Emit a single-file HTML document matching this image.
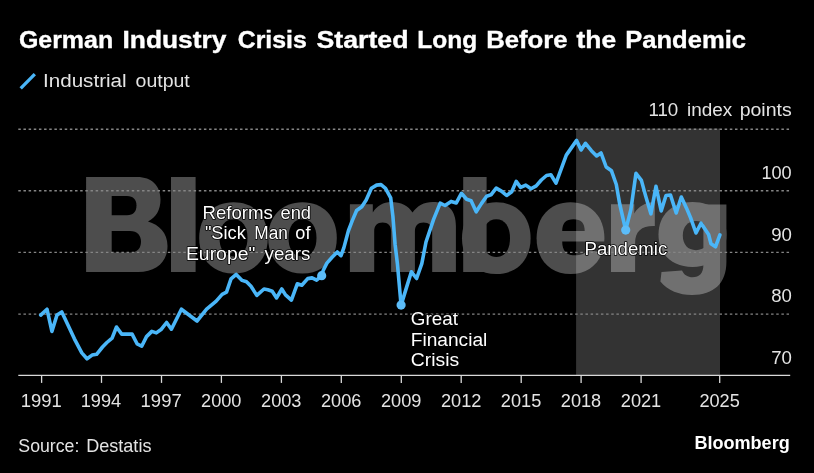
<!DOCTYPE html>
<html><head><meta charset="utf-8"><title>German Industry Crisis Started Long Before the Pandemic</title>
<style>
html,body{margin:0;padding:0;background:#000;}
body{width:814px;height:473px;overflow:hidden;font-family:"Liberation Sans",sans-serif;}
svg{display:block;}
text{font-family:"Liberation Sans",sans-serif;}
.lab{fill:#e4e4e4;}
.ann{fill:#ffffff;stroke:#000;stroke-width:1.6px;paint-order:stroke;stroke-linejoin:round;}
</style></head><body>
<svg width="814" height="473" viewBox="0 0 814 473" style="opacity:0.9999">
<rect width="814" height="473" fill="#000"/>
<defs><mask id="wmm" maskUnits="userSpaceOnUse" x="0" y="0" width="814" height="473">
<path fill="#fff" d="M86.1,177 H137 C152,177 160.5,186 160.5,199.5 C160.5,210 156,217.5 148,221.5 C159,224.5 167.5,233 167.5,246 C167.5,262 156,272 138,272 H86.1 Z"/>
<path fill="#000" d="M111.7,196 H127 C133.5,196 136.5,200 136.5,205.6 C136.5,211.5 133.5,215.3 127,215.3 H111.7 Z"/>
<path fill="#000" d="M111.7,230.9 H130 C137.5,230.9 141,235.5 141,241.7 C141,248 137.5,252.6 130,252.6 H111.7 Z"/>
<path fill="#fff" d="M171,177 H195.6 V272 H171 Z"/>
<path fill="#fff" d="M199.2,237.9 C199.2,216.5 212.9,202.2 233.5,202.2 C254.1,202.2 267.8,216.5 267.8,237.9 C267.8,259.3 254.1,273.6 233.5,273.6 C212.9,273.6 199.2,259.3 199.2,237.9 Z"/>
<path fill="#000" d="M219.5,237.9 C219.5,226.4 224.8,219.3 233.5,219.3 C242.2,219.3 247.5,226.4 247.5,237.9 C247.5,249.4 242.2,256.5 233.5,256.5 C224.8,256.5 219.5,249.4 219.5,237.9 Z"/>
<path fill="#fff" d="M268.2,237.9 C268.2,216.5 281.9,202.2 302.5,202.2 C323.1,202.2 336.8,216.5 336.8,237.9 C336.8,259.3 323.1,273.6 302.5,273.6 C281.9,273.6 268.2,259.3 268.2,237.9 Z"/>
<path fill="#000" d="M288.5,237.9 C288.5,226.4 293.8,219.3 302.5,219.3 C311.2,219.3 316.5,226.4 316.5,237.9 C316.5,249.4 311.2,256.5 302.5,256.5 C293.8,256.5 288.5,249.4 288.5,237.9 Z"/>
<path fill="#fff" d="M349.9,272 V204.2 H372.8 V212.5 C377,206 383.5,202.1 391,202.1 C401,202.1 408.5,206 412.5,212.6 C417,206 424,202 433,202 C448,202 455.9,210.5 455.9,226 V272 H432.2 V231.5 C432.2,225.5 429,222.6 423.5,222.6 C418,222.6 414.9,225.5 414.9,231.5 V272 H391.1 V231.5 C391.1,225.5 388,222.6 382.6,222.6 C377.2,222.6 374.2,225.5 374.2,231.5 V272 Z"/>
<path fill="#fff" d="M462.0,238.2 C462.0,216.6 475.7,202.2 496.3,202.2 C516.9,202.2 530.6,216.6 530.6,238.2 C530.6,259.7 516.9,274.1 496.3,274.1 C475.7,274.1 462.0,259.7 462.0,238.2 Z"/>
<path fill="#000" d="M482.6,238.2 C482.6,226.5 487.8,219.3 496.3,219.3 C504.8,219.3 510.0,226.5 510.0,238.2 C510.0,249.8 504.8,257.0 496.3,257.0 C487.8,257.0 482.6,249.8 482.6,238.2 Z"/>
<path fill="#fff" d="M463.2,177 H486.6 V272 H463.2 Z"/>
<path fill="#fff" d="M536.6,238.2 C536.6,216.6 550.2,202.2 570.5,202.2 C590.8,202.2 604.4,216.6 604.4,238.2 C604.4,259.7 590.8,274.1 570.5,274.1 C550.2,274.1 536.6,259.7 536.6,238.2 Z"/>
<path fill="#000" d="M562.2,231 C562.2,223 566,219.3 573.5,219.3 C581,219.3 584.7,223 584.7,231 Z"/>
<path fill="#000" d="M562.2,241.4 H612 V256 L603.5,253.5 L589,249.5 C586,253.5 581,255.3 574.5,255.3 C566.5,255.3 562.2,250.5 562.2,241.4 Z"/>
<path fill="#fff" d="M611,272 V204.2 H634.3 V213.4 C638.5,206.5 645.5,202.3 654.8,202.1 V226 C642,225.5 635.1,231 635.1,243 V272 Z"/>
<path fill="#fff" d="M658.5,234.5 C658.5,215.0 672.1,202.0 692.5,202.0 C712.9,202.0 726.5,215.0 726.5,234.5 C726.5,254.0 712.9,267.0 692.5,267.0 C672.1,267.0 658.5,254.0 658.5,234.5 Z"/>
<path fill="#000" d="M682.8,235.6 C682.8,226.5 687.8,221.0 696.0,221.0 C704.2,221.0 709.2,226.5 709.2,235.6 C709.2,244.7 704.2,250.2 696.0,250.2 C687.8,250.2 682.8,244.7 682.8,235.6 Z"/>
<path fill="#fff" d="M703.4,204.4 H726.4 V262 C726.4,283 714,295 692,295 C679,295 668,290.5 660.4,281.5 L661.5,272 L682,270.5 C684,275 688,277.3 692.5,277.3 C699.5,277.3 703.4,273 703.4,265 Z"/>
</mask></defs>
<rect x="80" y="170" width="660" height="135" fill="#ffffff" fill-opacity="0.302" mask="url(#wmm)"/>
<rect x="576.1" y="128.6" width="143.9" height="246.8" fill="#ffffff" fill-opacity="0.20"/>
<line x1="18.3" x2="790" y1="129.2" y2="129.2" stroke="#858585" stroke-width="1.4" stroke-dasharray="2.5 2.656"/>
<line x1="18.3" x2="790" y1="190.8" y2="190.8" stroke="#858585" stroke-width="1.4" stroke-dasharray="2.5 2.656"/>
<line x1="18.3" x2="790" y1="252.4" y2="252.4" stroke="#858585" stroke-width="1.4" stroke-dasharray="2.5 2.656"/>
<line x1="18.3" x2="790" y1="314.1" y2="314.1" stroke="#858585" stroke-width="1.4" stroke-dasharray="2.5 2.656"/>
<line x1="18.3" x2="790.2" y1="375.45" y2="375.45" stroke="#d8d8d8" stroke-width="1.3"/>
<line x1="41.6" x2="41.6" y1="375.45" y2="382.9" stroke="#d8d8d8" stroke-width="1.3"/>
<text class="lab" transform="translate(20.67,407.4) scale(0.9727,1)" font-size="19.0" font-weight="normal">1991</text>
<line x1="101.5" x2="101.5" y1="375.45" y2="382.9" stroke="#d8d8d8" stroke-width="1.3"/>
<text class="lab" transform="translate(80.64,407.4) scale(0.9592,1)" font-size="19.0" font-weight="normal">1994</text>
<line x1="161.5" x2="161.5" y1="375.45" y2="382.9" stroke="#d8d8d8" stroke-width="1.3"/>
<text class="lab" transform="translate(140.57,407.4) scale(0.9735,1)" font-size="19.0" font-weight="normal">1997</text>
<line x1="221.4" x2="221.4" y1="375.45" y2="382.9" stroke="#d8d8d8" stroke-width="1.3"/>
<text class="lab" transform="translate(201.12,407.4) scale(0.9544,1)" font-size="19.0" font-weight="normal">2000</text>
<line x1="281.4" x2="281.4" y1="375.45" y2="382.9" stroke="#d8d8d8" stroke-width="1.3"/>
<text class="lab" transform="translate(261.07,407.4) scale(0.9564,1)" font-size="19.0" font-weight="normal">2003</text>
<line x1="341.3" x2="341.3" y1="375.45" y2="382.9" stroke="#d8d8d8" stroke-width="1.3"/>
<text class="lab" transform="translate(321.02,407.4) scale(0.9564,1)" font-size="19.0" font-weight="normal">2006</text>
<line x1="401.3" x2="401.3" y1="375.45" y2="382.9" stroke="#d8d8d8" stroke-width="1.3"/>
<text class="lab" transform="translate(380.97,407.4) scale(0.9572,1)" font-size="19.0" font-weight="normal">2009</text>
<line x1="461.2" x2="461.2" y1="375.45" y2="382.9" stroke="#d8d8d8" stroke-width="1.3"/>
<text class="lab" transform="translate(440.92,407.4) scale(0.9589,1)" font-size="19.0" font-weight="normal">2012</text>
<line x1="521.2" x2="521.2" y1="375.45" y2="382.9" stroke="#d8d8d8" stroke-width="1.3"/>
<text class="lab" transform="translate(500.87,407.4) scale(0.9558,1)" font-size="19.0" font-weight="normal">2015</text>
<line x1="581.1" x2="581.1" y1="375.45" y2="382.9" stroke="#d8d8d8" stroke-width="1.3"/>
<text class="lab" transform="translate(560.82,407.4) scale(0.9564,1)" font-size="19.0" font-weight="normal">2018</text>
<line x1="641.1" x2="641.1" y1="375.45" y2="382.9" stroke="#d8d8d8" stroke-width="1.3"/>
<text class="lab" transform="translate(620.76,407.4) scale(0.9582,1)" font-size="19.0" font-weight="normal">2021</text>
<line x1="719.7" x2="719.7" y1="375.45" y2="382.9" stroke="#d8d8d8" stroke-width="1.3"/>
<text class="lab" transform="translate(699.41,407.4) scale(0.9558,1)" font-size="19.0" font-weight="normal">2025</text>
<text class="lab" transform="translate(648.38,116.3) scale(0.9874,1)" font-size="19.0" font-weight="normal">110</text>
<text class="lab" transform="translate(686.93,116.3) scale(0.9971,1)" font-size="19.0" font-weight="normal">index</text>
<text class="lab" transform="translate(739.63,116.3) scale(1.0284,1)" font-size="19.0" font-weight="normal">points</text>
<text class="lab" transform="translate(761.43,179.3) scale(0.9552,1)" font-size="19.0" font-weight="normal">100</text>
<text class="lab" transform="translate(771.22,240.8) scale(0.9810,1)" font-size="19.0" font-weight="normal">90</text>
<text class="lab" transform="translate(771.24,302.4) scale(0.9798,1)" font-size="19.0" font-weight="normal">80</text>
<text class="lab" transform="translate(771.18,363.6) scale(0.9829,1)" font-size="19.0" font-weight="normal">70</text>
<polyline points="40.7,315.1 47.0,309.2 51.9,331.4 57.0,315.0 61.8,311.9 67.7,324.4 74.4,338.8 81.8,352.9 87.0,358.8 92.1,355.1 96.6,354.3 102.5,347.0 106.9,342.5 112.1,338.1 116.5,327.0 121.7,334.1 132.1,334.1 137.2,344.0 141.7,346.2 146.5,336.6 151.8,331.4 156.3,332.9 161.4,329.2 166.6,322.5 171.4,329.2 181.4,309.2 197.0,321.0 206.6,309.2 216.2,301.1 222.1,294.4 226.5,292.2 231.0,278.9 236.2,274.4 242.1,280.4 246.5,281.8 251.0,286.3 256.8,295.4 264.0,289.0 267.8,289.7 272.2,291.2 276.6,297.9 281.8,289.0 285.5,294.9 291.4,300.1 297.3,283.8 301.8,285.3 307.7,278.6 312.1,277.9 316.6,280.1 321.7,275.7 323.2,270.5 326.9,263.1 332.1,257.2 337.3,252.0 341.0,255.7 343.9,247.6 348.5,230.5 352.2,220.9 356.6,210.5 361.8,206.8 366.2,200.1 371.4,188.3 376.6,185.1 381.0,184.6 385.5,188.3 390.7,197.9 392.9,216.4 395.1,244.5 397.4,263.7 401.1,305.1 407.0,285.9 411.4,271.8 416.6,278.5 421.8,263.7 426.0,242.0 433.6,219.4 440.2,203.1 445.0,205.5 451.1,201.4 456.3,202.9 461.4,193.3 466.6,199.2 471.1,200.7 476.2,211.8 481.4,203.6 486.6,196.2 491.0,194.8 496.2,188.1 501.4,191.1 506.6,195.5 511.7,191.8 516.2,181.4 520.6,187.4 525.8,185.1 531.0,188.8 536.2,185.9 541.3,180.0 546.5,175.5 550.9,174.8 556.0,183.1 566.3,155.1 576.6,140.4 581.1,150.0 585.5,143.3 591.4,150.7 596.6,155.9 601.0,152.9 606.2,167.0 611.5,170.8 616.3,184.5 619.7,204.0 625.7,230.1 630.9,209.4 636.0,173.3 641.4,180.4 645.4,195.1 650.9,213.8 656.0,186.3 661.2,210.9 666.0,195.5 670.5,195.0 676.2,213.0 681.3,197.0 686.4,207.9 690.8,218.3 696.0,233.0 701.0,223.2 708.6,234.5 711.0,243.8 715.5,246.8 719.9,234.9" fill="none" stroke="#4ab6f8" stroke-width="3.6" stroke-linejoin="round" stroke-linecap="round"/>
<circle cx="321.7" cy="275.7" r="4.6" fill="#5cbcf8"/>
<circle cx="401.1" cy="305.1" r="4.6" fill="#5cbcf8"/>
<circle cx="625.7" cy="230.1" r="4.6" fill="#5cbcf8"/>
<text class="ann" transform="translate(202.50,218.6) scale(0.9812,1)" font-size="19.0" font-weight="normal">Reforms</text>
<text class="ann" transform="translate(280.48,218.6) scale(0.9650,1)" font-size="19.0" font-weight="normal">end</text>
<text class="ann" transform="translate(204.89,239.2) scale(0.9610,1)" font-size="19.0" font-weight="normal">&quot;Sick</text>
<text class="ann" transform="translate(254.31,239.2) scale(0.9074,1)" font-size="19.0" font-weight="normal">Man</text>
<text class="ann" transform="translate(295.29,239.2) scale(0.9565,1)" font-size="19.0" font-weight="normal">of</text>
<text class="ann" transform="translate(185.93,259.8) scale(1.0210,1)" font-size="19.0" font-weight="normal">Europe&quot;</text>
<text class="ann" transform="translate(264.56,259.8) scale(0.9879,1)" font-size="19.0" font-weight="normal">years</text>
<text class="ann" transform="translate(410.87,325.4) scale(0.9907,1)" font-size="19.0" font-weight="normal">Great</text>
<text class="ann" transform="translate(410.75,345.8) scale(1.0077,1)" font-size="19.0" font-weight="normal">Financial</text>
<text class="ann" transform="translate(410.83,366.2) scale(1.0207,1)" font-size="19.0" font-weight="normal">Crisis</text>
<text class="ann" transform="translate(584.50,254.6) scale(0.9794,1)" font-size="19.0" font-weight="normal">Pandemic</text>
<text transform="translate(18.90,48.4) scale(1.0571,1)" font-size="23.6" font-weight="bold" fill="#fff" stroke="#fff" stroke-width="0.35">German</text>
<text transform="translate(122.49,48.4) scale(1.1169,1)" font-size="23.6" font-weight="bold" fill="#fff" stroke="#fff" stroke-width="0.35">Industry</text>
<text transform="translate(237.70,48.4) scale(1.0530,1)" font-size="23.6" font-weight="bold" fill="#fff" stroke="#fff" stroke-width="0.35">Crisis</text>
<text transform="translate(316.56,48.4) scale(1.1311,1)" font-size="23.6" font-weight="bold" fill="#fff" stroke="#fff" stroke-width="0.35">Started</text>
<text transform="translate(417.31,48.4) scale(1.0377,1)" font-size="23.6" font-weight="bold" fill="#fff" stroke="#fff" stroke-width="0.35">Long</text>
<text transform="translate(486.13,48.4) scale(1.0899,1)" font-size="23.6" font-weight="bold" fill="#fff" stroke="#fff" stroke-width="0.35">Before</text>
<text transform="translate(576.57,48.4) scale(1.1201,1)" font-size="23.6" font-weight="bold" fill="#fff" stroke="#fff" stroke-width="0.35">the</text>
<text transform="translate(625.14,48.4) scale(1.0840,1)" font-size="23.6" font-weight="bold" fill="#fff" stroke="#fff" stroke-width="0.35">Pandemic</text>
<line x1="20.7" y1="88.3" x2="34.8" y2="74.1" stroke="#4ab6f8" stroke-width="3.3"/>
<text class="lab" transform="translate(42.96,87.2) scale(1.0864,1)" font-size="19.0" font-weight="normal">Industrial</text>
<text class="lab" transform="translate(135.54,87.2) scale(1.0266,1)" font-size="19.0" font-weight="normal">output</text>
<text class="lab" transform="translate(18.35,451.9) scale(0.9320,1)" font-size="19.0" font-weight="normal">Source:</text>
<text class="lab" transform="translate(86.24,451.9) scale(0.9504,1)" font-size="19.0" font-weight="normal">Destatis</text>
<text transform="translate(694.39,448.8) scale(0.9415,1)" font-size="19.2" font-weight="bold" fill="#fff">Bloomberg</text>
</svg></body></html>
